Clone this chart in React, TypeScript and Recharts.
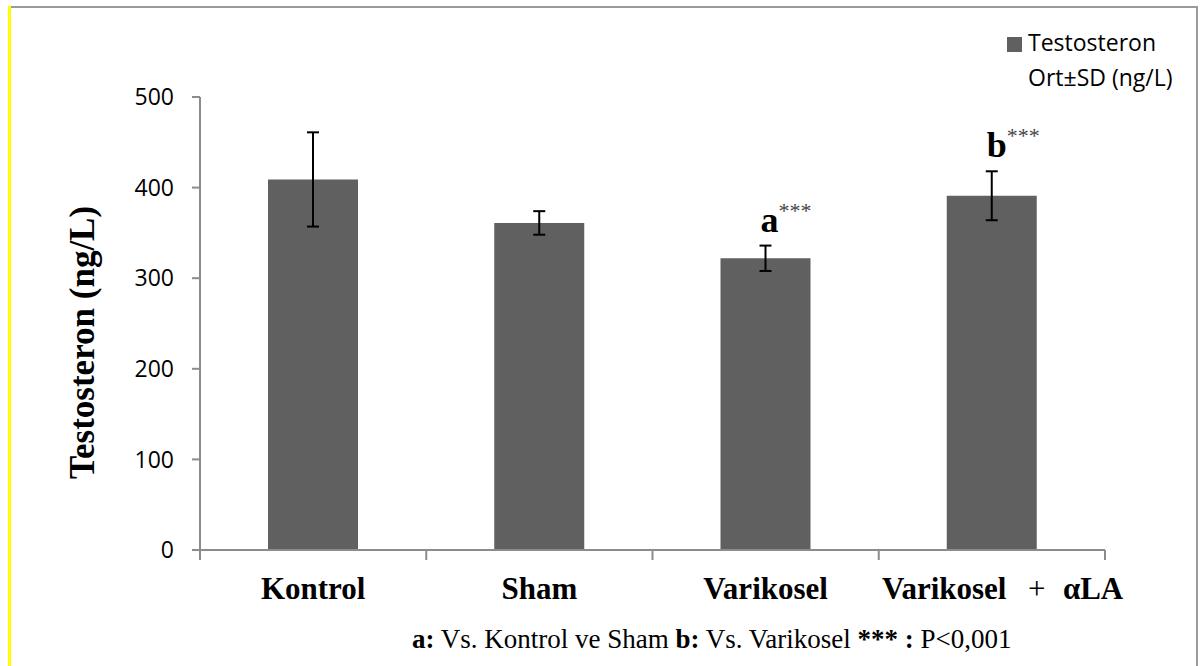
import React from "react";
import { BarChart, Bar, XAxis, YAxis, ErrorBar, LabelList, Legend } from "recharts";

// testosterone per group, mean ± SD (ng/L)
const groups = ["Kontrol", "Sham", "Varikosel", "Varikosel + αLA"];
const means = [409, 361, 322, 391];
const sds = [52, 13, 14, 27];
const marks = ["", "", "a", "b"];
const stars = ["", "", "***", "***"];
const yTicks = [0, 100, 200, 300, 400, 500];

const data = groups.map((group, i) => ({
  group,
  mean: means[i],
  sd: sds[i],
  mark: marks[i],
}));

const W = 1201;
const H = 666;
const MARGIN = { top: 97, right: 96, bottom: 56, left: 140 };
const Y_AXIS_W = 60;
const X_AXIS_H = 60;
const PLOT_W = W - MARGIN.left - MARGIN.right - Y_AXIS_W;
const STEP = PLOT_W / groups.length;

const SERIF = '"Liberation Serif", "Times New Roman", serif';
const SANS = '"Open Sans", Calibri, sans-serif';
const BAR = "#606060";
const AXIS = "#8c8c8c";

// category label plus the divider ticks between categories
const GroupTick = (props: any) => {
  const { x, y, payload, index } = props;
  const left = x - STEP / 2;
  const divider = (px: number) => (
    <line x1={px} x2={px} y1={y - 10} y2={y} stroke={AXIS} strokeWidth={2} />
  );
  const label = String(payload.value);
  const plus = label.indexOf(" + ");
  return (
    <g>
      {divider(left)}
      {index === groups.length - 1 && divider(left + STEP)}
      {plus < 0 ? (
        <text x={x} y={y + 39} textAnchor="middle" fontFamily={SERIF} fontWeight="bold" fontSize={31} fill="#000">
          {label}
        </text>
      ) : (
        <text y={y + 39} fontFamily={SERIF} fontSize={31} fill="#000">
          <tspan x={x - 110} fontWeight="bold">{label.slice(0, plus)}</tspan>
          <tspan x={x + 36}>+</tspan>
          <tspan x={x + 71} fontWeight="bold">{label.slice(plus + 3)}</tspan>
        </text>
      )}
    </g>
  );
};

const YTitle = ({ viewBox }: any) => {
  const cx = viewBox.x - 46;
  const cy = viewBox.y + viewBox.height / 2 + 19;
  return (
    <text
      x={cx}
      y={cy}
      transform={`rotate(-90 ${cx} ${cy})`}
      textAnchor="middle"
      fontFamily={SERIF}
      fontWeight="bold"
      fontSize={35}
      fill="#000"
    >
      Testosteron (ng/L)
    </text>
  );
};

const Note = ({ viewBox }: any) => (
  <text x={viewBox.x + 212} y={viewBox.y + 98} fontFamily={SERIF} fontSize={27} fill="#000">
    <tspan fontWeight="bold">a:</tspan> Vs. Kontrol ve Sham <tspan fontWeight="bold">b:</tspan> Vs. Varikosel{" "}
    <tspan fontWeight="bold">*** :</tspan> P&lt;0,001
  </text>
);

// significance letter sitting above the error bar cap
const MarkLabel = (props: any) => {
  const { x, y, width, height, value, index } = props;
  if (!value) return null;
  const pxPerUnit = Number(height) / means[index];
  const capTop = Number(y) - sds[index] * pxPerUnit;
  const cx = Number(x) + Number(width) / 2;
  return (
    <text x={cx - 5} y={capTop - 14} fontFamily={SERIF} fill="#000">
      <tspan fontWeight="bold" fontSize={36}>{value}</tspan>
      <tspan fontSize={22} dy={-14} fill="#444">{stars[index]}</tspan>
    </text>
  );
};

const SeriesKey = () => (
  <div style={{ display: "flex", alignItems: "flex-start", fontFamily: SANS, fontSize: 23, lineHeight: "35px", color: "#000" }}>
    <span style={{ width: 15, height: 15, background: BAR, marginTop: 12, marginRight: 6, flexShrink: 0 }} />
    <span>
      Testosteron
      <br />
      Ort±SD (ng/L)
    </span>
  </div>
);

export default function App() {
  return (
    <div style={{ position: "absolute", top: 0, left: 0, width: W, height: H, background: "#fff", overflow: "hidden" }}>
      <div style={{ position: "absolute", left: 11, top: 6, width: 1187, height: 2, background: "#9a9a9a" }} />
      <div style={{ position: "absolute", left: 1196, top: 6, width: 2, height: H - 6, background: "#9a9a9a" }} />
      <div style={{ position: "absolute", left: 8, top: 6, width: 3, height: H - 6, background: "#ffff00" }} />
      <div style={{ position: "absolute", top: 0, left: 0 }}>
        <BarChart width={W} height={H} data={data} margin={MARGIN} barSize={90}>
          <XAxis
            dataKey="group"
            height={X_AXIS_H}
            interval={0}
            axisLine={{ stroke: AXIS, strokeWidth: 2 }}
            tickLine={false}
            tickSize={10}
            tickMargin={0}
            tick={<GroupTick />}
            label={{ content: <Note /> } as any}
          />
          <YAxis
            width={Y_AXIS_W}
            domain={[0, 500]}
            ticks={yTicks}
            interval={0}
            axisLine={{ stroke: AXIS, strokeWidth: 2 }}
            tickLine={{ stroke: AXIS, strokeWidth: 2 }}
            tickSize={8}
            tickMargin={18}
            tick={{ fill: "#000", fontSize: 23, fontFamily: SANS }}
            label={{ content: <YTitle /> } as any}
          />
          <Legend
            layout="horizontal"
            verticalAlign="middle"
            align="center"
            content={<SeriesKey />}
            wrapperStyle={{ top: 25, left: 1007, width: 190 }}
          />
          <Bar dataKey="mean" name="Testosteron" fill={BAR} isAnimationActive={false}>
            <ErrorBar dataKey="sd" width={6} stroke="#000" strokeWidth={2} direction="y" />
            <LabelList dataKey="mark" content={<MarkLabel />} />
          </Bar>
        </BarChart>
      </div>
    </div>
  );
}
